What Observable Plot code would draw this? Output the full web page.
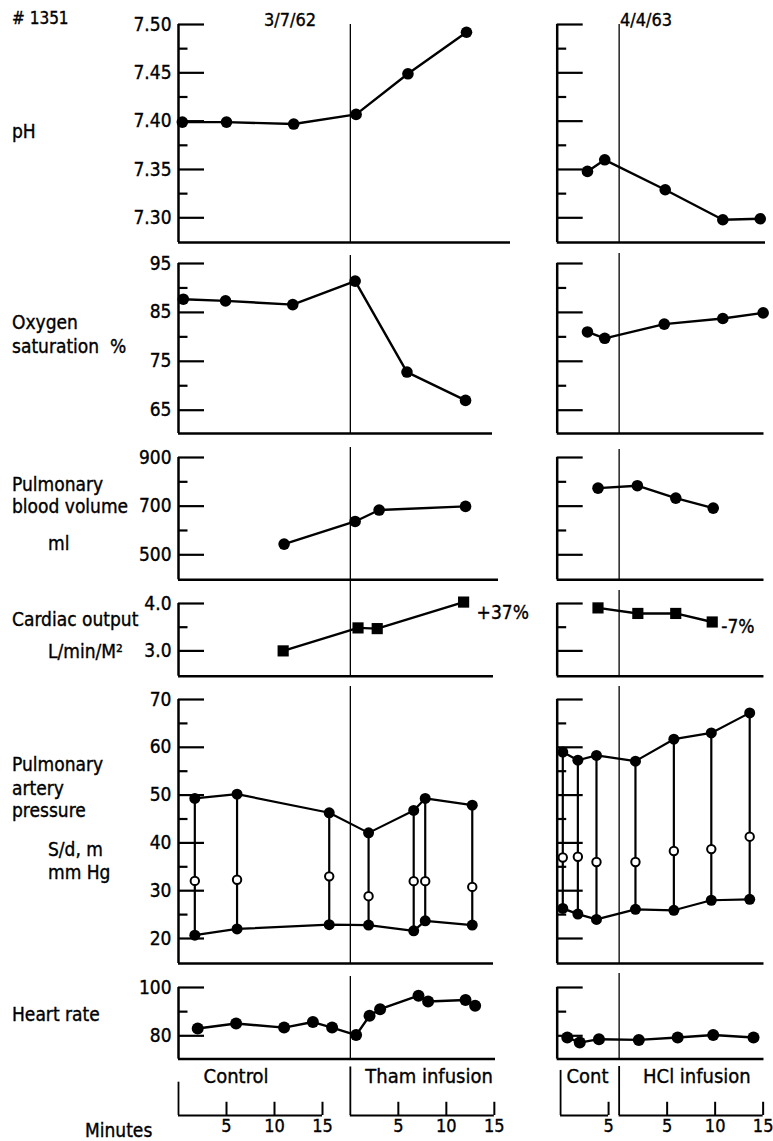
<!DOCTYPE html>
<html><head><meta charset="utf-8">
<script src="https://cdn.jsdelivr.net/npm/d3@7"></script>
<script src="https://cdn.jsdelivr.net/npm/@observablehq/plot@0.6"></script>
<style>
html,body{margin:0;padding:0;background:#fff;}
#chart{position:relative;width:773px;height:1141px;overflow:hidden;color:#000;
  font-family:"DejaVu Sans Condensed","DejaVu Sans",sans-serif;font-stretch:condensed;}
.lbl{position:absolute;white-space:pre;line-height:1;-webkit-text-stroke:0.35px #000;}
#chart svg text{stroke:#000;stroke-width:0.35px;}
</style></head>
<body><div id="chart"></div>
<script>
// ---------------- DATA ----------------
const sessions = ["3/7/62", "4/4/63"];
const phases = ["Control", "Tham infusion", "Cont", "HCl infusion"];

// [phase, minute, value]
const ph1962 = [["Control",0.4,7.399],["Control",5.0,7.399],["Control",12.0,7.397],["Tham infusion",0.6,7.407],["Tham infusion",6.0,7.449],["Tham infusion",12.1,7.492]];
const ph1963 = [["Cont",2.8,7.348],["Cont",4.6,7.360],["HCl infusion",4.8,7.329],["HCl infusion",10.8,7.298],["HCl infusion",14.7,7.299]];
const phTicks = [7.30,7.35,7.40,7.45,7.50];
const phMinor = [7.325,7.375,7.425,7.475];

const o2_1962 = [["Control",0.5,87.7],["Control",4.9,87.35],["Control",11.9,86.6],["Tham infusion",0.5,91.4],["Tham infusion",5.9,72.8],["Tham infusion",12.0,67.0]];
const o2_1963 = [["Cont",2.8,81.0],["Cont",4.6,79.7],["HCl infusion",4.7,82.6],["HCl infusion",10.8,83.75],["HCl infusion",15.0,84.9]];
const o2Ticks = [65,75,85,95];
const o2Minor = [70,80,90];

const pbv1962 = [["Control",11.0,544],["Tham infusion",0.5,637],["Tham infusion",3.0,684],["Tham infusion",12.0,699]];
const pbv1963 = [["Cont",3.9,774],["HCl infusion",1.9,784],["HCl infusion",5.9,733],["HCl infusion",9.8,692]];
const pbvTicks = [500,700,900];
const pbvMinor = [600,800];

const co1962 = [["Control",10.9,3.0],["Tham infusion",0.8,3.485],["Tham infusion",2.8,3.47],["Tham infusion",11.8,4.03]];
const co1963 = [["Cont",3.9,3.907],["HCl infusion",1.95,3.79],["HCl infusion",5.9,3.79],["HCl infusion",9.7,3.61]];
const coTicks = [3.0,4.0];
const coMinor = [3.5];
const coChange = ["+37%", "-7%"];

// [phase, minute, systolic, mean, diastolic]
const pap1962 = [["Control",1.7,49.3,32.05,20.7],["Control",6.1,50.2,32.3,22.0],["Control",15.7,46.3,33.0,22.9],["Tham infusion",1.9,42.1,28.85,22.8],["Tham infusion",6.6,46.8,32.0,21.6],["Tham infusion",7.8,49.3,32.0,23.7],["Tham infusion",12.7,47.9,30.8,22.8]];
const pap1963 = [["Cont",0.23,59.0,36.95,26.3],["Cont",1.8,57.3,37.1,25.1],["Cont",3.74,58.3,36.0,24.0],["HCl infusion",1.7,57.1,36.0,26.1],["HCl infusion",5.7,61.7,38.3,25.9],["HCl infusion",9.6,63.0,38.7,28.0],["HCl infusion",13.6,67.2,41.3,28.2]];
const papTicks = [20,30,40,50,60,70];
const papMinor = [25,35,45,55,65];

const hr1962 = [["Control",2.0,83.0],["Control",6.0,85.1],["Control",11.0,83.4],["Control",14.0,85.7],["Control",16.0,83.4],["Tham infusion",0.6,80.3],["Tham infusion",2.0,88.3],["Tham infusion",3.1,91.0],["Tham infusion",7.1,96.6],["Tham infusion",8.1,94.2],["Tham infusion",12.0,94.8],["Tham infusion",13.0,92.4]];
const hr1963 = [["Cont",0.7,79.3],["Cont",2.0,77.2],["Cont",4.0,78.6],["HCl infusion",2.05,78.3],["HCl infusion",6.1,79.3],["HCl infusion",9.8,80.3],["HCl infusion",14.0,79.3]];
const hrTicks = [80,100];
const hrMinor = [90];

const phaseLength = [15, 15, 5, 15];
const phaseTicks = [[5,10,15],[5,10,15],[5],[5,10,15]];

// ---------------- LAYOUT ----------------
const W = 773;
const X_LEFT = 178, X_RIGHT = 765, PX_PER_MIN = 9.6;
const T_MAX = (X_RIGHT - X_LEFT) / PX_PER_MIN;
const RIGHT_AXIS_T = (556.7 - X_LEFT) / PX_PER_MIN;
const LONG_TICK = 26 / PX_PER_MIN, SHORT_TICK = 9.5 / PX_PER_MIN;
const PHASE_OFFSET = {"Control": 0, "Tham infusion": 17.9, "Cont": 39.8, "HCl infusion": 45.9};
const FONT = '"DejaVu Sans Condensed","DejaVu Sans",sans-serif';

const ROWS = {
  pH:  {hi: 7.50, top: 24,    ref: 7.30, refPx: 217.3, bottom: 242,   leftEnd: 510, rightEnd: 765,   divExt: [0, 0],  fmt: ".2f", major: phTicks,  minor: phMinor},
  o2:  {hi: 95,   top: 263.3, ref: 65,   refPx: 410,   bottom: 433.3, leftEnd: 492, rightEnd: 763.5, divExt: [8, 10], fmt: "d",   major: o2Ticks,  minor: o2Minor},
  pbv: {hi: 900,  top: 456.7, ref: 500,  refPx: 554,   bottom: 579,   leftEnd: 498, rightEnd: 763.5, divExt: [10, 8], fmt: "d",   major: pbvTicks, minor: pbvMinor},
  co:  {hi: 4.0,  top: 603.3, ref: 3.0,  refPx: 650.7, bottom: 676,   leftEnd: 493, rightEnd: 763.5, divExt: [22, 13],fmt: ".1f", major: coTicks,  minor: coMinor},
  pap: {hi: 70,   top: 699.3, ref: 20,   refPx: 938.3, bottom: 963.3, leftEnd: 493, rightEnd: 763.5, divExt: [13, 13],fmt: "d",   major: papTicks, minor: papMinor},
  hr:  {hi: 100,  top: 986.7, ref: 80,   refPx: 1035,  bottom: 1058.3,leftEnd: 495, rightEnd: 763.5, divExt: [11, 14],fmt: "d",   major: hrTicks,  minor: hrMinor}
};
const STYLE = {fontFamily: FONT, fontSize: "18px", background: "transparent", overflow: "visible", color: "black"};

const chart = document.getElementById("chart");

function recs(arr, session) {
  return arr.map(([phase, minute, value]) => ({session, phase, minute, value, T: PHASE_OFFSET[phase] + minute}));
}
function papRecs(arr, session) {
  return arr.map(([phase, minute, sys, mean, dia]) => ({session, phase, minute, sys, mean, dia, T: PHASE_OFFSET[phase] + minute}));
}

function place(svg, top) {
  svg.style.position = "absolute";
  svg.style.left = "0px";
  svg.style.top = top + "px";
  chart.appendChild(svg);
}

function drawRow(key, marks) {
  const r = ROWS[key];
  const pxPerUnit = (r.refPx - r.top) / (r.hi - r.ref);
  const lo = r.hi - (r.bottom - r.top) / pxPerUnit;
  const padTop = 24, padBottom = 10;
  const panels = [
    {axisT: 0, endT: (r.leftEnd - X_LEFT) / PX_PER_MIN, divT: PHASE_OFFSET["Tham infusion"], ext: r.divExt[0], base: lo},
    {axisT: RIGHT_AXIS_T, endT: (r.rightEnd - X_LEFT) / PX_PER_MIN, divT: PHASE_OFFSET["HCl infusion"], ext: r.divExt[1], base: lo}
  ];
  const tickRows = panels.flatMap(p => [
    ...r.major.map(v => ({y: v, x1: p.axisT, x2: p.axisT + LONG_TICK})),
    ...r.minor.map(v => ({y: v, x1: p.axisT, x2: p.axisT + SHORT_TICK}))
  ]);
  const svg = Plot.plot({
    width: W,
    height: r.bottom - r.top + padTop + padBottom,
    marginLeft: X_LEFT, marginRight: W - X_RIGHT, marginTop: padTop, marginBottom: padBottom,
    x: {domain: [0, T_MAX], axis: null},
    y: {domain: [lo, r.hi], axis: null},
    style: STYLE,
    marks: [
      ...panels.map(p => Plot.ruleX([p], {x: "divT", insetTop: -p.ext, stroke: "black", strokeWidth: 1.3})),
      Plot.ruleX(panels, {x: "axisT", stroke: "black", strokeWidth: 2.5}),
      Plot.ruleY(panels, {y: "base", x1: "axisT", x2: "endT", stroke: "black", strokeWidth: 2.5}),
      Plot.ruleY(tickRows, {y: "y", x1: "x1", x2: "x2", stroke: "black", strokeWidth: 2.2}),
      Plot.axisY(r.major, {anchor: "left", tickSize: 0, tickPadding: 7, tickFormat: r.fmt, fontSize: 19, label: null}),
      ...marks
    ]
  });
  place(svg, r.top - padTop);
}

function seriesMarks(data, symbol = "circle", r = 5.8) {
  return [
    Plot.line(data, {x: "T", y: "value", z: "session", stroke: "black", strokeWidth: 2.4}),
    Plot.dot(data, {x: "T", y: "value", symbol, r, fill: "black"})
  ];
}

// pH
drawRow("pH", seriesMarks([...recs(ph1962, sessions[0]), ...recs(ph1963, sessions[1])]));
// O2 saturation
drawRow("o2", seriesMarks([...recs(o2_1962, sessions[0]), ...recs(o2_1963, sessions[1])]));
// Pulmonary blood volume
drawRow("pbv", seriesMarks([...recs(pbv1962, sessions[0]), ...recs(pbv1963, sessions[1])]));
// Cardiac output
{
  const a = recs(co1962, sessions[0]), b = recs(co1963, sessions[1]);
  drawRow("co", [
    ...seriesMarks([...a, ...b], "square", 6.3),
    Plot.text([a[a.length - 1]], {x: "T", y: "value", text: () => coChange[0], textAnchor: "start", dx: 13, dy: 11, fontSize: 19}),
    Plot.text([b[b.length - 1]], {x: "T", y: "value", text: () => coChange[1], textAnchor: "start", dx: 9, dy: 5, fontSize: 19})
  ]);
}
// Pulmonary artery pressure
{
  const d = [...papRecs(pap1962, sessions[0]), ...papRecs(pap1963, sessions[1])];
  drawRow("pap", [
    Plot.ruleX(d, {x: "T", y1: "dia", y2: "sys", stroke: "black", strokeWidth: 2.2}),
    Plot.line(d, {x: "T", y: "sys", z: "session", stroke: "black", strokeWidth: 2.2}),
    Plot.line(d, {x: "T", y: "dia", z: "session", stroke: "black", strokeWidth: 2.2}),
    Plot.dot(d, {x: "T", y: "sys", r: 5.5, fill: "black"}),
    Plot.dot(d, {x: "T", y: "dia", r: 5.5, fill: "black"}),
    Plot.dot(d, {x: "T", y: "mean", r: 4.2, fill: "white", stroke: "black", strokeWidth: 2})
  ]);
}
// Heart rate
drawRow("hr", seriesMarks([...recs(hr1962, sessions[0]), ...recs(hr1963, sessions[1])], "circle", 6));

// ---------------- TIME AXIS ----------------
{
  const labelAt = [6.0, 8.2, 2.8, 8.1];
  const startHeight = [0.68, 0.99, 0.92, 1.0];
  const TICK_H = 0.27;
  const ph = phases.map((p, i) => ({phase: p, start: PHASE_OFFSET[p], end: PHASE_OFFSET[p] + phaseLength[i], y0: 0, h: startHeight[i], labelT: PHASE_OFFSET[p] + labelAt[i]}));
  const ticks = phases.flatMap((p, i) => phaseTicks[i].map(m => ({T: PHASE_OFFSET[p] + m, label: String(m), y0: 0, y1: TICK_H})));
  const top = 1060, height = 81;
  const svg = Plot.plot({
    width: W, height,
    marginLeft: X_LEFT, marginRight: W - X_RIGHT, marginTop: 1066 - top, marginBottom: top + height - 1115,
    x: {domain: [0, T_MAX], axis: null},
    y: {domain: [0, 1], axis: null},
    style: STYLE,
    marks: [
      Plot.ruleY(ph, {y: "y0", x1: "start", x2: "end", stroke: "black", strokeWidth: 2.2}),
      Plot.ruleX(ph, {x: "start", y1: "y0", y2: "h", stroke: "black", strokeWidth: 1.8}),
      Plot.ruleX(ticks, {x: "T", y1: "y0", y2: "y1", stroke: "black", strokeWidth: 2}),
      Plot.text(ticks, {x: "T", text: "label", frameAnchor: "bottom", dy: 16, fontSize: 18}),
      Plot.text(ph, {x: "labelT", text: "phase", frameAnchor: "bottom", dy: -33, fontSize: 20})
    ]
  });
  place(svg, top);
}

// ---------------- TEXT LABELS ----------------
const LABELS = [
  ["# 1351", 12, 18, 17],
  ["3/7/62", 290, 20, 18, "middle"],
  ["4/4/63", 620, 20, 18],
  ["pH", 12, 131.5, 19],
  ["Oxygen", 12, 322.5, 19], ["saturation  %", 12, 346, 19],
  ["Pulmonary", 12, 484, 19], ["blood volume", 12, 506, 19], ["ml", 48, 543, 19],
  ["Cardiac output", 12, 619, 19], ["L/min/M²", 48, 651, 19],
  ["Pulmonary", 12, 764, 19], ["artery", 12, 788, 19], ["pressure", 12, 810, 19], ["S/d, m", 48, 849, 19], ["mm Hg", 48, 872, 19],
  ["Heart rate", 12, 1014, 19],
  ["Minutes", 85, 1130, 19]
];
for (const [text, x, cy, size, anchor] of LABELS) {
  const d = document.createElement("div");
  d.className = "lbl";
  d.textContent = text;
  d.style.fontSize = size + "px";
  d.style.top = (cy - 0.48 * size) + "px";
  d.style.left = x + "px";
  if (anchor === "middle") d.style.transform = "translateX(-50%)";
  chart.appendChild(d);
}
</script>
</body></html>
